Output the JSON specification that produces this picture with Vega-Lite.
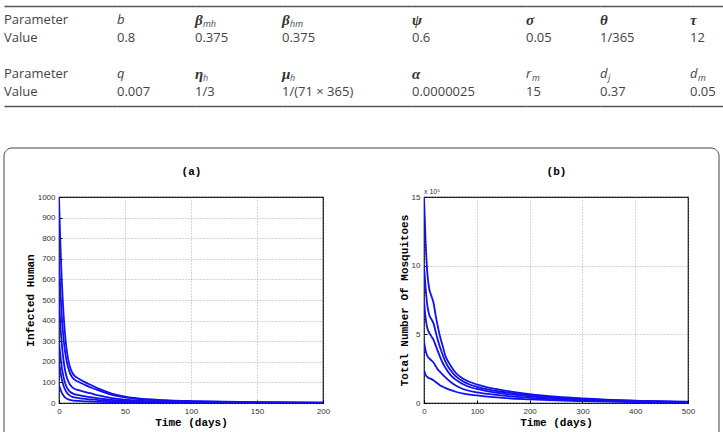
{
  "$schema": "https://vega.github.io/schema/vega-lite/v6.json",
  "background": "white",
  "padding": {"left": 2, "top": 6, "right": 0, "bottom": -21},
  "datasets": {
    "table": [
      {"col":0,"row":"p1","text":"Parameter","kind":"plain"},
      {"col":0,"row":"v1","text":"Value","kind":"plain"},
      {"col":0,"row":"p2","text":"Parameter","kind":"plain"},
      {"col":0,"row":"v2","text":"Value","kind":"plain"},
      {"col":1,"row":"p1","text":"b","kind":"latin"},
      {"col":1,"row":"v1","text":"0.8","kind":"plain"},
      {"col":1,"row":"p2","text":"q","kind":"latin"},
      {"col":1,"row":"v2","text":"0.007","kind":"plain"},
      {"col":2,"row":"p1","text":"β","sub":"mh","kind":"greek"},
      {"col":2,"row":"v1","text":"0.375","kind":"plain"},
      {"col":2,"row":"p2","text":"η","sub":"h","kind":"greek"},
      {"col":2,"row":"v2","text":"1/3","kind":"plain"},
      {"col":3,"row":"p1","text":"β","sub":"hm","kind":"greek"},
      {"col":3,"row":"v1","text":"0.375","kind":"plain"},
      {"col":3,"row":"p2","text":"μ","sub":"h","kind":"greek"},
      {"col":3,"row":"v2","text":"1/(71 × 365)","kind":"plain"},
      {"col":4,"row":"p1","text":"ψ","kind":"greek"},
      {"col":4,"row":"v1","text":"0.6","kind":"plain"},
      {"col":4,"row":"p2","text":"α","kind":"greek"},
      {"col":4,"row":"v2","text":"0.0000025","kind":"plain"},
      {"col":5,"row":"p1","text":"σ","kind":"greek"},
      {"col":5,"row":"v1","text":"0.05","kind":"plain"},
      {"col":5,"row":"p2","text":"r","sub":"m","kind":"latin"},
      {"col":5,"row":"v2","text":"15","kind":"plain"},
      {"col":6,"row":"p1","text":"θ","kind":"greek"},
      {"col":6,"row":"v1","text":"1/365","kind":"plain"},
      {"col":6,"row":"p2","text":"d","sub":"j","kind":"latin"},
      {"col":6,"row":"v2","text":"0.37","kind":"plain"},
      {"col":7,"row":"p1","text":"τ","kind":"greek"},
      {"col":7,"row":"v1","text":"12","kind":"plain"},
      {"col":7,"row":"p2","text":"d","sub":"m","kind":"latin"},
      {"col":7,"row":"v2","text":"0.05","kind":"plain"}
    ],
    "humans": [
      {"run":1,"t":0,"v":1000},{"run":1,"t":1,"v":780},{"run":1,"t":2,"v":610},{"run":1,"t":3,"v":480},{"run":1,"t":4,"v":380},{"run":1,"t":5,"v":305},{"run":1,"t":6,"v":250},{"run":1,"t":8,"v":182},{"run":1,"t":10,"v":148},{"run":1,"t":12,"v":130},{"run":1,"t":15,"v":118},{"run":1,"t":20,"v":100},{"run":1,"t":25,"v":85},{"run":1,"t":30,"v":70},{"run":1,"t":40,"v":46},{"run":1,"t":50,"v":31},{"run":1,"t":60,"v":22},{"run":1,"t":80,"v":14},{"run":1,"t":100,"v":9.5},{"run":1,"t":125,"v":6},{"run":1,"t":150,"v":3.8},{"run":1,"t":200,"v":1.5},
      {"run":2,"t":0,"v":700},{"run":2,"t":1,"v":550},{"run":2,"t":2,"v":430},{"run":2,"t":3,"v":345},{"run":2,"t":4,"v":280},{"run":2,"t":5,"v":232},{"run":2,"t":6,"v":196},{"run":2,"t":8,"v":150},{"run":2,"t":10,"v":125},{"run":2,"t":12,"v":112},{"run":2,"t":15,"v":102},{"run":2,"t":20,"v":87},{"run":2,"t":25,"v":73},{"run":2,"t":30,"v":61},{"run":2,"t":40,"v":40},{"run":2,"t":50,"v":27},{"run":2,"t":60,"v":19},{"run":2,"t":80,"v":12},{"run":2,"t":100,"v":8.2},{"run":2,"t":125,"v":5.2},{"run":2,"t":150,"v":3.3},{"run":2,"t":200,"v":1.3},
      {"run":3,"t":0,"v":500},{"run":3,"t":1,"v":385},{"run":3,"t":2,"v":295},{"run":3,"t":3,"v":230},{"run":3,"t":4,"v":182},{"run":3,"t":5,"v":147},{"run":3,"t":6,"v":122},{"run":3,"t":8,"v":92},{"run":3,"t":10,"v":77},{"run":3,"t":12,"v":68},{"run":3,"t":15,"v":62},{"run":3,"t":20,"v":53},{"run":3,"t":25,"v":45},{"run":3,"t":30,"v":37},{"run":3,"t":40,"v":24},{"run":3,"t":50,"v":16.5},{"run":3,"t":60,"v":11.5},{"run":3,"t":80,"v":7.3},{"run":3,"t":100,"v":5},{"run":3,"t":125,"v":3.2},{"run":3,"t":150,"v":2},{"run":3,"t":200,"v":0.8},
      {"run":4,"t":0,"v":300},{"run":4,"t":1,"v":232},{"run":4,"t":2,"v":178},{"run":4,"t":3,"v":140},{"run":4,"t":4,"v":111},{"run":4,"t":5,"v":90},{"run":4,"t":6,"v":75},{"run":4,"t":8,"v":57},{"run":4,"t":10,"v":48},{"run":4,"t":12,"v":42},{"run":4,"t":15,"v":38},{"run":4,"t":20,"v":32},{"run":4,"t":25,"v":27},{"run":4,"t":30,"v":22.5},{"run":4,"t":40,"v":15},{"run":4,"t":50,"v":10},{"run":4,"t":60,"v":7},{"run":4,"t":80,"v":4.5},{"run":4,"t":100,"v":3.1},{"run":4,"t":125,"v":2},{"run":4,"t":150,"v":1.25},{"run":4,"t":200,"v":0.5},
      {"run":5,"t":0,"v":200},{"run":5,"t":1,"v":155},{"run":5,"t":2,"v":119},{"run":5,"t":3,"v":93},{"run":5,"t":4,"v":74},{"run":5,"t":5,"v":60},{"run":5,"t":6,"v":50},{"run":5,"t":8,"v":37},{"run":5,"t":10,"v":30},{"run":5,"t":12,"v":27},{"run":5,"t":15,"v":24},{"run":5,"t":20,"v":20},{"run":5,"t":25,"v":17},{"run":5,"t":30,"v":14},{"run":5,"t":40,"v":9.3},{"run":5,"t":50,"v":6.3},{"run":5,"t":60,"v":4.4},{"run":5,"t":80,"v":2.8},{"run":5,"t":100,"v":1.9},{"run":5,"t":125,"v":1.2},{"run":5,"t":150,"v":0.8},{"run":5,"t":200,"v":0.3},
      {"run":6,"t":0,"v":90},{"run":6,"t":1,"v":68},{"run":6,"t":2,"v":52},{"run":6,"t":3,"v":40},{"run":6,"t":4,"v":31},{"run":6,"t":5,"v":25},{"run":6,"t":6,"v":20.5},{"run":6,"t":8,"v":15.5},{"run":6,"t":10,"v":12.5},{"run":6,"t":12,"v":11},{"run":6,"t":15,"v":10},{"run":6,"t":20,"v":8.3},{"run":6,"t":25,"v":7},{"run":6,"t":30,"v":5.8},{"run":6,"t":40,"v":3.9},{"run":6,"t":50,"v":2.6},{"run":6,"t":60,"v":1.8},{"run":6,"t":80,"v":1.2},{"run":6,"t":100,"v":0.8},{"run":6,"t":125,"v":0.5},{"run":6,"t":150,"v":0.3},{"run":6,"t":200,"v":0.1}
    ],
    "mosq": [
      {"run":1,"t":0,"v":15},{"run":1,"t":3,"v":11.8},{"run":1,"t":6,"v":9.6},{"run":1,"t":10,"v":8.3},{"run":1,"t":14,"v":7.8},{"run":1,"t":18,"v":7.3},{"run":1,"t":22,"v":6.4},{"run":1,"t":26,"v":5.6},{"run":1,"t":30,"v":4.9},{"run":1,"t":35,"v":4.2},{"run":1,"t":40,"v":3.5},{"run":1,"t":50,"v":2.75},{"run":1,"t":60,"v":2.2},{"run":1,"t":75,"v":1.75},{"run":1,"t":100,"v":1.35},{"run":1,"t":125,"v":1.1},{"run":1,"t":150,"v":0.92},{"run":1,"t":200,"v":0.65},{"run":1,"t":250,"v":0.46},{"run":1,"t":300,"v":0.33},{"run":1,"t":400,"v":0.17},{"run":1,"t":500,"v":0.09},
      {"run":2,"t":0,"v":10},{"run":2,"t":3,"v":8.4},{"run":2,"t":6,"v":7.2},{"run":2,"t":10,"v":6.4},{"run":2,"t":14,"v":6.1},{"run":2,"t":18,"v":5.8},{"run":2,"t":22,"v":5.2},{"run":2,"t":26,"v":4.6},{"run":2,"t":30,"v":4.1},{"run":2,"t":35,"v":3.55},{"run":2,"t":40,"v":3.05},{"run":2,"t":50,"v":2.4},{"run":2,"t":60,"v":1.95},{"run":2,"t":75,"v":1.55},{"run":2,"t":100,"v":1.18},{"run":2,"t":125,"v":0.96},{"run":2,"t":150,"v":0.8},{"run":2,"t":200,"v":0.57},{"run":2,"t":250,"v":0.4},{"run":2,"t":300,"v":0.29},{"run":2,"t":400,"v":0.15},{"run":2,"t":500,"v":0.08},
      {"run":3,"t":0,"v":7.5},{"run":3,"t":3,"v":6.2},{"run":3,"t":6,"v":5.5},{"run":3,"t":10,"v":5.1},{"run":3,"t":14,"v":4.85},{"run":3,"t":18,"v":4.6},{"run":3,"t":22,"v":4.2},{"run":3,"t":26,"v":3.8},{"run":3,"t":30,"v":3.4},{"run":3,"t":35,"v":2.95},{"run":3,"t":40,"v":2.6},{"run":3,"t":50,"v":2.05},{"run":3,"t":60,"v":1.7},{"run":3,"t":75,"v":1.35},{"run":3,"t":100,"v":1.02},{"run":3,"t":125,"v":0.83},{"run":3,"t":150,"v":0.69},{"run":3,"t":200,"v":0.49},{"run":3,"t":250,"v":0.35},{"run":3,"t":300,"v":0.25},{"run":3,"t":400,"v":0.13},{"run":3,"t":500,"v":0.07},
      {"run":4,"t":0,"v":4.5},{"run":4,"t":3,"v":3.8},{"run":4,"t":6,"v":3.45},{"run":4,"t":10,"v":3.25},{"run":4,"t":14,"v":3.1},{"run":4,"t":18,"v":2.95},{"run":4,"t":22,"v":2.7},{"run":4,"t":26,"v":2.45},{"run":4,"t":30,"v":2.28},{"run":4,"t":35,"v":2.08},{"run":4,"t":40,"v":1.88},{"run":4,"t":50,"v":1.55},{"run":4,"t":60,"v":1.28},{"run":4,"t":75,"v":1.0},{"run":4,"t":100,"v":0.78},{"run":4,"t":125,"v":0.64},{"run":4,"t":150,"v":0.53},{"run":4,"t":200,"v":0.38},{"run":4,"t":250,"v":0.27},{"run":4,"t":300,"v":0.19},{"run":4,"t":400,"v":0.1},{"run":4,"t":500,"v":0.05},
      {"run":5,"t":0,"v":2.4},{"run":5,"t":3,"v":2.05},{"run":5,"t":6,"v":1.9},{"run":5,"t":10,"v":1.8},{"run":5,"t":14,"v":1.74},{"run":5,"t":18,"v":1.65},{"run":5,"t":22,"v":1.53},{"run":5,"t":26,"v":1.42},{"run":5,"t":30,"v":1.3},{"run":5,"t":35,"v":1.2},{"run":5,"t":40,"v":1.1},{"run":5,"t":50,"v":0.95},{"run":5,"t":60,"v":0.82},{"run":5,"t":75,"v":0.68},{"run":5,"t":100,"v":0.55},{"run":5,"t":125,"v":0.45},{"run":5,"t":150,"v":0.37},{"run":5,"t":200,"v":0.27},{"run":5,"t":250,"v":0.19},{"run":5,"t":300,"v":0.14},{"run":5,"t":400,"v":0.07},{"run":5,"t":500,"v":0.04}
    ]
  },
  "vconcat": [
    {
      "hconcat": [
        {"width":113,"height":100,"data":{"name":"table"},"transform":[{"filter":"datum.col == 0"}],
         "encoding":{"y":{"field":"row","type":"nominal","scale":{"domain":["p1","v1","gap","p2","v2"],"padding":0.78},"axis":null}},
         "layer":[
          {"transform":[{"filter":"datum.kind == 'plain'"}],"mark":{"type":"text","align":"left","baseline":"middle","font":"Open Sans","fontSize":13,"color":"#444"},"encoding":{"x":{"datum":0,"type":"quantitative","scale":{"domain":[0,1]},"axis":{"orient":"top","domain":true,"domainColor":"#555","domainWidth":1.5,"labels":false,"ticks":false,"grid":false,"title":null}},"text":{"field":"text"}}},
          {"transform":[{"filter":"datum.kind == 'greek'"}],"mark":{"type":"text","align":"left","baseline":"middle","font":"Liberation Serif","fontStyle":"italic","fontWeight":"bold","fontSize":15,"color":"#333"},"encoding":{"x":{"datum":0,"type":"quantitative","scale":{"domain":[0,1]},"axis":{"orient":"bottom","domain":true,"domainColor":"#555","domainWidth":1.5,"labels":false,"ticks":false,"grid":false,"title":null}},"text":{"field":"text"}}},
          {"transform":[{"filter":"datum.kind == 'latin'"}],"mark":{"type":"text","align":"left","baseline":"middle","font":"Open Sans","fontStyle":"italic","fontSize":13,"color":"#444"},"encoding":{"x":{"datum":0,"type":"quantitative","scale":{"domain":[0,1]},"axis":null},"text":{"field":"text"}}},
          {"transform":[{"filter":"isValid(datum.sub)"}],"mark":{"type":"text","align":"left","baseline":"middle","font":"Open Sans","fontStyle":"italic","fontSize":9,"color":"#444","dx":8,"dy":4},"encoding":{"x":{"datum":0,"type":"quantitative","scale":{"domain":[0,1]},"axis":null},"text":{"field":"sub"}}}
         ],
         "resolve":{"scale":{"x":"independent"},"axis":{"x":"independent"}}},
        {"width":78,"height":100,"data":{"name":"table"},"transform":[{"filter":"datum.col == 1"}],
         "encoding":{"y":{"field":"row","type":"nominal","scale":{"domain":["p1","v1","gap","p2","v2"],"padding":0.78},"axis":null}},
         "layer":[
          {"transform":[{"filter":"datum.kind == 'plain'"}],"mark":{"type":"text","align":"left","baseline":"middle","font":"Open Sans","fontSize":13,"color":"#444"},"encoding":{"x":{"datum":0,"type":"quantitative","scale":{"domain":[0,1]},"axis":{"orient":"top","domain":true,"domainColor":"#555","domainWidth":1.5,"labels":false,"ticks":false,"grid":false,"title":null}},"text":{"field":"text"}}},
          {"transform":[{"filter":"datum.kind == 'greek'"}],"mark":{"type":"text","align":"left","baseline":"middle","font":"Liberation Serif","fontStyle":"italic","fontWeight":"bold","fontSize":15,"color":"#333"},"encoding":{"x":{"datum":0,"type":"quantitative","scale":{"domain":[0,1]},"axis":{"orient":"bottom","domain":true,"domainColor":"#555","domainWidth":1.5,"labels":false,"ticks":false,"grid":false,"title":null}},"text":{"field":"text"}}},
          {"transform":[{"filter":"datum.kind == 'latin'"}],"mark":{"type":"text","align":"left","baseline":"middle","font":"Open Sans","fontStyle":"italic","fontSize":13,"color":"#444"},"encoding":{"x":{"datum":0,"type":"quantitative","scale":{"domain":[0,1]},"axis":null},"text":{"field":"text"}}},
          {"transform":[{"filter":"isValid(datum.sub)"}],"mark":{"type":"text","align":"left","baseline":"middle","font":"Open Sans","fontStyle":"italic","fontSize":9,"color":"#444","dx":8,"dy":4},"encoding":{"x":{"datum":0,"type":"quantitative","scale":{"domain":[0,1]},"axis":null},"text":{"field":"sub"}}}
         ],
         "resolve":{"scale":{"x":"independent"},"axis":{"x":"independent"}}},
        {"width":87,"height":100,"data":{"name":"table"},"transform":[{"filter":"datum.col == 2"}],
         "encoding":{"y":{"field":"row","type":"nominal","scale":{"domain":["p1","v1","gap","p2","v2"],"padding":0.78},"axis":null}},
         "layer":[
          {"transform":[{"filter":"datum.kind == 'plain'"}],"mark":{"type":"text","align":"left","baseline":"middle","font":"Open Sans","fontSize":13,"color":"#444"},"encoding":{"x":{"datum":0,"type":"quantitative","scale":{"domain":[0,1]},"axis":{"orient":"top","domain":true,"domainColor":"#555","domainWidth":1.5,"labels":false,"ticks":false,"grid":false,"title":null}},"text":{"field":"text"}}},
          {"transform":[{"filter":"datum.kind == 'greek'"}],"mark":{"type":"text","align":"left","baseline":"middle","font":"Liberation Serif","fontStyle":"italic","fontWeight":"bold","fontSize":15,"color":"#333"},"encoding":{"x":{"datum":0,"type":"quantitative","scale":{"domain":[0,1]},"axis":{"orient":"bottom","domain":true,"domainColor":"#555","domainWidth":1.5,"labels":false,"ticks":false,"grid":false,"title":null}},"text":{"field":"text"}}},
          {"transform":[{"filter":"datum.kind == 'latin'"}],"mark":{"type":"text","align":"left","baseline":"middle","font":"Open Sans","fontStyle":"italic","fontSize":13,"color":"#444"},"encoding":{"x":{"datum":0,"type":"quantitative","scale":{"domain":[0,1]},"axis":null},"text":{"field":"text"}}},
          {"transform":[{"filter":"isValid(datum.sub)"}],"mark":{"type":"text","align":"left","baseline":"middle","font":"Open Sans","fontStyle":"italic","fontSize":9,"color":"#444","dx":8,"dy":4},"encoding":{"x":{"datum":0,"type":"quantitative","scale":{"domain":[0,1]},"axis":null},"text":{"field":"sub"}}}
         ],
         "resolve":{"scale":{"x":"independent"},"axis":{"x":"independent"}}},
        {"width":130,"height":100,"data":{"name":"table"},"transform":[{"filter":"datum.col == 3"}],
         "encoding":{"y":{"field":"row","type":"nominal","scale":{"domain":["p1","v1","gap","p2","v2"],"padding":0.78},"axis":null}},
         "layer":[
          {"transform":[{"filter":"datum.kind == 'plain'"}],"mark":{"type":"text","align":"left","baseline":"middle","font":"Open Sans","fontSize":13,"color":"#444"},"encoding":{"x":{"datum":0,"type":"quantitative","scale":{"domain":[0,1]},"axis":{"orient":"top","domain":true,"domainColor":"#555","domainWidth":1.5,"labels":false,"ticks":false,"grid":false,"title":null}},"text":{"field":"text"}}},
          {"transform":[{"filter":"datum.kind == 'greek'"}],"mark":{"type":"text","align":"left","baseline":"middle","font":"Liberation Serif","fontStyle":"italic","fontWeight":"bold","fontSize":15,"color":"#333"},"encoding":{"x":{"datum":0,"type":"quantitative","scale":{"domain":[0,1]},"axis":{"orient":"bottom","domain":true,"domainColor":"#555","domainWidth":1.5,"labels":false,"ticks":false,"grid":false,"title":null}},"text":{"field":"text"}}},
          {"transform":[{"filter":"datum.kind == 'latin'"}],"mark":{"type":"text","align":"left","baseline":"middle","font":"Open Sans","fontStyle":"italic","fontSize":13,"color":"#444"},"encoding":{"x":{"datum":0,"type":"quantitative","scale":{"domain":[0,1]},"axis":null},"text":{"field":"text"}}},
          {"transform":[{"filter":"isValid(datum.sub)"}],"mark":{"type":"text","align":"left","baseline":"middle","font":"Open Sans","fontStyle":"italic","fontSize":9,"color":"#444","dx":8,"dy":4},"encoding":{"x":{"datum":0,"type":"quantitative","scale":{"domain":[0,1]},"axis":null},"text":{"field":"sub"}}}
         ],
         "resolve":{"scale":{"x":"independent"},"axis":{"x":"independent"}}},
        {"width":114,"height":100,"data":{"name":"table"},"transform":[{"filter":"datum.col == 4"}],
         "encoding":{"y":{"field":"row","type":"nominal","scale":{"domain":["p1","v1","gap","p2","v2"],"padding":0.78},"axis":null}},
         "layer":[
          {"transform":[{"filter":"datum.kind == 'plain'"}],"mark":{"type":"text","align":"left","baseline":"middle","font":"Open Sans","fontSize":13,"color":"#444"},"encoding":{"x":{"datum":0,"type":"quantitative","scale":{"domain":[0,1]},"axis":{"orient":"top","domain":true,"domainColor":"#555","domainWidth":1.5,"labels":false,"ticks":false,"grid":false,"title":null}},"text":{"field":"text"}}},
          {"transform":[{"filter":"datum.kind == 'greek'"}],"mark":{"type":"text","align":"left","baseline":"middle","font":"Liberation Serif","fontStyle":"italic","fontWeight":"bold","fontSize":15,"color":"#333"},"encoding":{"x":{"datum":0,"type":"quantitative","scale":{"domain":[0,1]},"axis":{"orient":"bottom","domain":true,"domainColor":"#555","domainWidth":1.5,"labels":false,"ticks":false,"grid":false,"title":null}},"text":{"field":"text"}}},
          {"transform":[{"filter":"datum.kind == 'latin'"}],"mark":{"type":"text","align":"left","baseline":"middle","font":"Open Sans","fontStyle":"italic","fontSize":13,"color":"#444"},"encoding":{"x":{"datum":0,"type":"quantitative","scale":{"domain":[0,1]},"axis":null},"text":{"field":"text"}}},
          {"transform":[{"filter":"isValid(datum.sub)"}],"mark":{"type":"text","align":"left","baseline":"middle","font":"Open Sans","fontStyle":"italic","fontSize":9,"color":"#444","dx":8,"dy":4},"encoding":{"x":{"datum":0,"type":"quantitative","scale":{"domain":[0,1]},"axis":null},"text":{"field":"sub"}}}
         ],
         "resolve":{"scale":{"x":"independent"},"axis":{"x":"independent"}}},
        {"width":74,"height":100,"data":{"name":"table"},"transform":[{"filter":"datum.col == 5"}],
         "encoding":{"y":{"field":"row","type":"nominal","scale":{"domain":["p1","v1","gap","p2","v2"],"padding":0.78},"axis":null}},
         "layer":[
          {"transform":[{"filter":"datum.kind == 'plain'"}],"mark":{"type":"text","align":"left","baseline":"middle","font":"Open Sans","fontSize":13,"color":"#444"},"encoding":{"x":{"datum":0,"type":"quantitative","scale":{"domain":[0,1]},"axis":{"orient":"top","domain":true,"domainColor":"#555","domainWidth":1.5,"labels":false,"ticks":false,"grid":false,"title":null}},"text":{"field":"text"}}},
          {"transform":[{"filter":"datum.kind == 'greek'"}],"mark":{"type":"text","align":"left","baseline":"middle","font":"Liberation Serif","fontStyle":"italic","fontWeight":"bold","fontSize":15,"color":"#333"},"encoding":{"x":{"datum":0,"type":"quantitative","scale":{"domain":[0,1]},"axis":{"orient":"bottom","domain":true,"domainColor":"#555","domainWidth":1.5,"labels":false,"ticks":false,"grid":false,"title":null}},"text":{"field":"text"}}},
          {"transform":[{"filter":"datum.kind == 'latin'"}],"mark":{"type":"text","align":"left","baseline":"middle","font":"Open Sans","fontStyle":"italic","fontSize":13,"color":"#444"},"encoding":{"x":{"datum":0,"type":"quantitative","scale":{"domain":[0,1]},"axis":null},"text":{"field":"text"}}},
          {"transform":[{"filter":"isValid(datum.sub)"}],"mark":{"type":"text","align":"left","baseline":"middle","font":"Open Sans","fontStyle":"italic","fontSize":9,"color":"#444","dx":6,"dy":4},"encoding":{"x":{"datum":0,"type":"quantitative","scale":{"domain":[0,1]},"axis":null},"text":{"field":"sub"}}}
         ],
         "resolve":{"scale":{"x":"independent"},"axis":{"x":"independent"}}},
        {"width":90,"height":100,"data":{"name":"table"},"transform":[{"filter":"datum.col == 6"}],
         "encoding":{"y":{"field":"row","type":"nominal","scale":{"domain":["p1","v1","gap","p2","v2"],"padding":0.78},"axis":null}},
         "layer":[
          {"transform":[{"filter":"datum.kind == 'plain'"}],"mark":{"type":"text","align":"left","baseline":"middle","font":"Open Sans","fontSize":13,"color":"#444"},"encoding":{"x":{"datum":0,"type":"quantitative","scale":{"domain":[0,1]},"axis":{"orient":"top","domain":true,"domainColor":"#555","domainWidth":1.5,"labels":false,"ticks":false,"grid":false,"title":null}},"text":{"field":"text"}}},
          {"transform":[{"filter":"datum.kind == 'greek'"}],"mark":{"type":"text","align":"left","baseline":"middle","font":"Liberation Serif","fontStyle":"italic","fontWeight":"bold","fontSize":15,"color":"#333"},"encoding":{"x":{"datum":0,"type":"quantitative","scale":{"domain":[0,1]},"axis":{"orient":"bottom","domain":true,"domainColor":"#555","domainWidth":1.5,"labels":false,"ticks":false,"grid":false,"title":null}},"text":{"field":"text"}}},
          {"transform":[{"filter":"datum.kind == 'latin'"}],"mark":{"type":"text","align":"left","baseline":"middle","font":"Open Sans","fontStyle":"italic","fontSize":13,"color":"#444"},"encoding":{"x":{"datum":0,"type":"quantitative","scale":{"domain":[0,1]},"axis":null},"text":{"field":"text"}}},
          {"transform":[{"filter":"isValid(datum.sub)"}],"mark":{"type":"text","align":"left","baseline":"middle","font":"Open Sans","fontStyle":"italic","fontSize":9,"color":"#444","dx":8,"dy":4},"encoding":{"x":{"datum":0,"type":"quantitative","scale":{"domain":[0,1]},"axis":null},"text":{"field":"sub"}}}
         ],
         "resolve":{"scale":{"x":"independent"},"axis":{"x":"independent"}}},
        {"width":35,"height":100,"data":{"name":"table"},"transform":[{"filter":"datum.col == 7"}],
         "encoding":{"y":{"field":"row","type":"nominal","scale":{"domain":["p1","v1","gap","p2","v2"],"padding":0.78},"axis":null}},
         "layer":[
          {"transform":[{"filter":"datum.kind == 'plain'"}],"mark":{"type":"text","align":"left","baseline":"middle","font":"Open Sans","fontSize":13,"color":"#444"},"encoding":{"x":{"datum":0,"type":"quantitative","scale":{"domain":[0,1]},"axis":{"orient":"top","domain":true,"domainColor":"#555","domainWidth":1.5,"labels":false,"ticks":false,"grid":false,"title":null}},"text":{"field":"text"}}},
          {"transform":[{"filter":"datum.kind == 'greek'"}],"mark":{"type":"text","align":"left","baseline":"middle","font":"Liberation Serif","fontStyle":"italic","fontWeight":"bold","fontSize":15,"color":"#333"},"encoding":{"x":{"datum":0,"type":"quantitative","scale":{"domain":[0,1]},"axis":{"orient":"bottom","domain":true,"domainColor":"#555","domainWidth":1.5,"labels":false,"ticks":false,"grid":false,"title":null}},"text":{"field":"text"}}},
          {"transform":[{"filter":"datum.kind == 'latin'"}],"mark":{"type":"text","align":"left","baseline":"middle","font":"Open Sans","fontStyle":"italic","fontSize":13,"color":"#444"},"encoding":{"x":{"datum":0,"type":"quantitative","scale":{"domain":[0,1]},"axis":null},"text":{"field":"text"}}},
          {"transform":[{"filter":"isValid(datum.sub)"}],"mark":{"type":"text","align":"left","baseline":"middle","font":"Open Sans","fontStyle":"italic","fontSize":9,"color":"#444","dx":8,"dy":4},"encoding":{"x":{"datum":0,"type":"quantitative","scale":{"domain":[0,1]},"axis":null},"text":{"field":"sub"}}}
         ],
         "resolve":{"scale":{"x":"independent"},"axis":{"x":"independent"}}}
      ],
      "spacing": 0,
      "bounds": "flush"
    },
    {
      "hconcat": [
        {
          "width": 1,
          "height": 1,
          "data": {"values": []},
          "mark": {"type": "text"},
          "encoding": {}
        },
        {
          "hconcat": [
            {
              "width": 264,
              "height": 206,
              "view": {"stroke": "#000", "strokeWidth": 1.2},
              "layer": [
                {
                  "data": {"name": "humans"},
                  "mark": {"type": "line", "color": "#1010f0", "strokeWidth": 1.8, "interpolate": "monotone", "clip": true},
                  "encoding": {
                    "x": {"field": "t", "type": "quantitative", "scale": {"domain": [0, 200], "nice": false}, "axis": {"values": [0, 50, 100, 150, 200], "format": "d", "title": "Time (days)", "titlePadding": 1}},
                    "y": {"field": "v", "type": "quantitative", "scale": {"domain": [0, 1000], "nice": false}, "axis": {"values": [0, 100, 200, 300, 400, 500, 600, 700, 800, 900, 1000], "format": "d", "title": "Infected Human", "titlePadding": 2}},
                    "detail": {"field": "run", "type": "nominal"}
                  }
                },
                {
                  "data": {"values": [{"panel": "(a)"}]},
                  "mark": {"type": "rect", "filled": false, "color": "#444", "strokeWidth": 1, "cornerRadius": 8, "clip": false},
                  "encoding": {
                    "x": {"datum": -41.67, "type": "quantitative", "scale": {"domain": [0, 200], "nice": false}, "axis": {"orient": "top", "title": "(a)", "titlePadding": 21, "labels": false, "ticks": false, "domain": false, "grid": false}},
                    "x2": {"datum": 500},
                    "y": {"datum": 1237.9, "type": "quantitative", "scale": {"domain": [0, 1000], "nice": false}, "axis": null},
                    "y2": {"datum": -237.9}
                  }
                }
              ],
              "resolve": {"scale": {"x": "independent", "y": "independent"}, "axis": {"x": "independent", "y": "independent"}}
            },
            {
              "width": 264,
              "height": 206,
              "view": {"stroke": "#000", "strokeWidth": 1.2},
              "layer": [
                {
                  "data": {"name": "mosq"},
                  "mark": {"type": "line", "color": "#1010f0", "strokeWidth": 1.8, "interpolate": "monotone", "clip": true},
                  "encoding": {
                    "x": {"field": "t", "type": "quantitative", "scale": {"domain": [0, 500], "nice": false}, "axis": {"values": [0, 100, 200, 300, 400, 500], "format": "d", "title": "Time (days)", "titlePadding": 1}},
                    "y": {"field": "v", "type": "quantitative", "scale": {"domain": [0, 15], "nice": false}, "axis": {"values": [0, 5, 10, 15], "format": "d", "title": "Total Number Of Mosquitoes", "titlePadding": 2}},
                    "detail": {"field": "run", "type": "nominal"}
                  }
                },
                {
                  "data": {"values": [{"label": "x 10⁶"}]},
                  "mark": {"type": "text", "align": "left", "baseline": "bottom", "font": "Liberation Sans", "fontSize": 7, "color": "#333", "dy": -2},
                  "encoding": {
                    "x": {"datum": 0, "type": "quantitative", "scale": {"domain": [0, 500], "nice": false}, "axis": {"orient": "top", "title": "(b)", "titlePadding": 21, "labels": false, "ticks": false, "domain": false, "grid": false}},
                    "y": {"datum": 15, "type": "quantitative", "scale": {"domain": [0, 15], "nice": false}, "axis": null},
                    "text": {"field": "label"}
                  }
                }
              ],
              "resolve": {"scale": {"x": "independent", "y": "independent"}, "axis": {"x": "independent", "y": "independent"}}
            }
          ],
          "spacing": 101,
          "bounds": "flush"
        }
      ],
      "spacing": 54,
      "bounds": "flush"
    }
  ],
  "spacing": 40,
  "config": {
    "view": {"stroke": null},
    "axis": {
      "labelFont": "Liberation Sans",
      "labelFontSize": 8,
      "labelColor": "#333",
      "titleFont": "Liberation Mono",
      "titleFontSize": 11,
      "titleFontWeight": "bold",
      "titleColor": "#000",
      "gridColor": "#888",
      "gridDash": [1, 2],
      "gridWidth": 0.7,
      "domain": false,
      "tickColor": "#000",
      "tickSize": -3,
      "labelPadding": 7,
      "labelFlush": false,
      "labelOverlap": false,
      "minExtent": 0
    }
  }
}
